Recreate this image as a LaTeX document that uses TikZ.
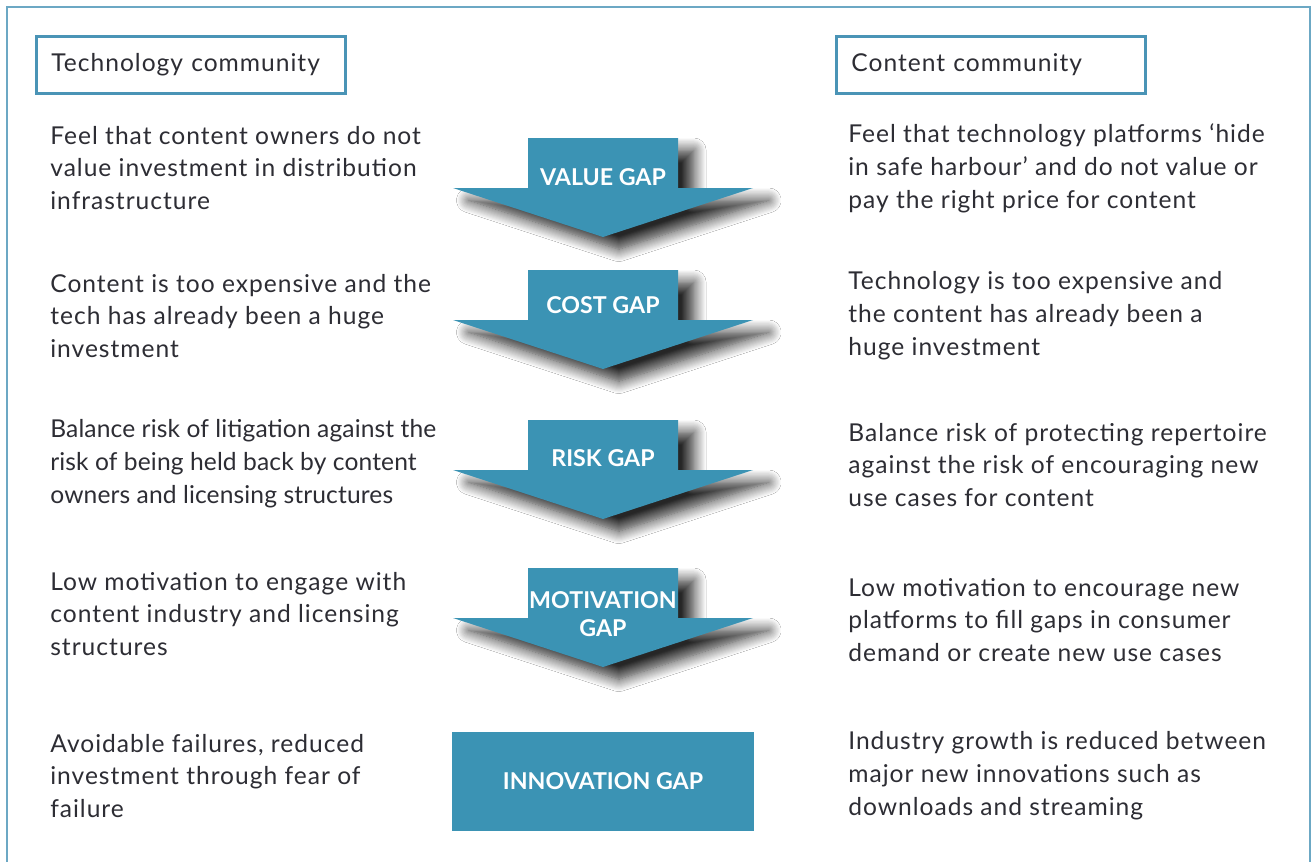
\documentclass[tikz,border=0pt]{standalone}
\usepackage{fontspec}
\setmainfont{Lato}[LetterSpace=4]
\newfontfamily\narrowlato{Lato}[LetterSpace=0.5]
\newfontfamily\gapfont{Lato}
\usetikzlibrary{shadows.blur}
\definecolor{gapblue}{RGB}{59,147,180}
\definecolor{frameblue}{RGB}{108,168,196}
\definecolor{boxblue}{RGB}{74,148,182}
\definecolor{ink}{RGB}{45,45,52}

\begin{document}
\begin{tikzpicture}[x=0.02cm, y=-0.02cm,
        every node/.style = {font=\fontsize{14}{18.7}\selectfont, text=ink},
        community/.style = {draw=boxblue, line width=1.6pt, anchor=north west,
            text width=5.58cm, inner xsep=0.3cm, minimum height=1.14cm, align=left},
        side/.style = {anchor=west, align=left, inner sep=0pt},
        gaparrow/.style = {fill=gapblue, blur shadow={shadow xshift=9pt,
            shadow yshift=-7pt, shadow blur radius=7pt, shadow blur steps=12,
            shadow opacity=85}},
        gaplabel/.style = {text=white, font=\gapfont\bfseries\fontsize{13.2}{15.5}\selectfont, align=center}
        ]
    \useasboundingbox[fill=white] (0,0) rectangle (1315,862);
    \draw[frameblue, line width=1.1pt] (7,862) -- (7,7) -- (1310,7) -- (1310,862);

    \node[community] (tech) at (35,35) {Technology community};
    \node[community] (content) at (835,35) {Content community};

    \foreach \t in {138,270,420,568}
        \fill[gaparrow] (528,\t) -- (678,\t) -- (678,\t+50) -- (753,\t+50)
            -- (603,\t+99) -- (453,\t+50) -- (528,\t+50) -- cycle;

    \node[gaplabel] (value) at (603,177) {VALUE GAP};
    \node[gaplabel] (cost) at (603,305) {COST GAP};
    \node[gaplabel] (risk) at (603,458) {RISK GAP};
    \node[gaplabel] (motivation) at (603,614) {MOTIVATION\\GAP};
    \node[gaplabel, fill=gapblue, minimum width=6.04cm, minimum height=1.98cm]
        (innovation) at (603,781) {INNOVATION GAP};

    \node[side] (techvalue) at (50,168) {Feel that content owners do not\\value investment in distribution\\infrastructure};
    \node[side] (techcost) at (50,316) {Content is too expensive and the\\tech has already been a huge\\investment};
    \node[side, font=\narrowlato\fontsize{14}{18.7}\selectfont] (techrisk) at (50,464) {Balance risk of litigation against the\\risk of being held back by content\\owners and licensing structures};
    \node[side] (techmotivation) at (50,614) {Low motivation to engage with\\content industry and licensing\\structures};
    \node[side] (techinnovation) at (50,776) {Avoidable failures, reduced\\investment through fear of\\failure};

    \node[side] (contentvalue) at (848,168) {Feel that technology platforms ‘hide\\in safe harbour’ and do not value or\\pay the right price for content};
    \node[side] (contentcost) at (848,316) {Technology is too expensive and\\the content has already been a\\huge investment};
    \node[side] (contentrisk) at (848,465) {Balance risk of protecting repertoire\\against the risk of encouraging new\\use cases for content};
    \node[side] (contentmotivation) at (848,620) {Low motivation to encourage new\\platforms to fill gaps in consumer\\demand or create new use cases};
    \node[side] (contentinnovation) at (848,776) {Industry growth is reduced between\\major new innovations such as\\downloads and streaming};
\end{tikzpicture}
\end{document}
